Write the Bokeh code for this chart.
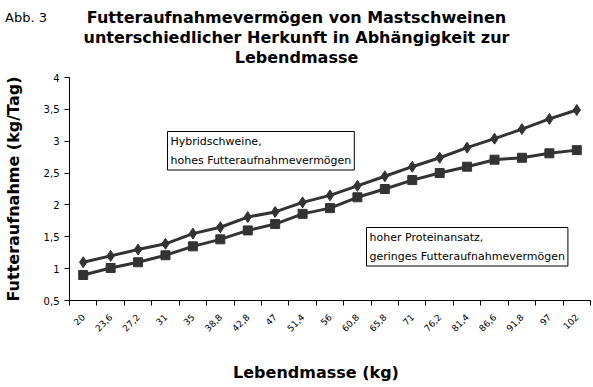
import math
from bokeh.plotting import figure
from bokeh.layouts import column
from bokeh.models import FixedTicker, Label, ColumnDataSource, Div
from bokeh.embed import file_html
from bokeh.resources import INLINE

# --- data ---
weights = ["20", "23,6", "27,2", "31", "35", "38,8", "42,8", "47", "51,4", "56",
           "60,8", "65,8", "71", "76,2", "81,4", "86,6", "91,8", "97", "102"]
hybrid = [1.10, 1.20, 1.30, 1.39, 1.55, 1.65, 1.81, 1.89, 2.04, 2.15,
          2.30, 2.45, 2.60, 2.74, 2.90, 3.04, 3.19, 3.35, 3.49]
protein = [0.90, 1.01, 1.10, 1.21, 1.35, 1.46, 1.60, 1.70, 1.86, 1.95,
           2.12, 2.25, 2.39, 2.50, 2.60, 2.71, 2.74, 2.81, 2.86]
y_ticks = [0.5, 1, 1.5, 2, 2.5, 3, 3.5, 4]
y_tick_labels = ["0,5", "1", "1,5", "2", "2,5", "3", "3,5", "4"]
title_lines = ["Futteraufnahmevermögen von Mastschweinen",
               "unterschiedlicher Herkunft in Abhängigkeit zur",
               "Lebendmasse"]

FONT = "DejaVu Sans"
DARK = "#333333"
W = 593
HEAD_H = 69
MAIN_H = 276
FOOT_H = 387 - HEAD_H - MAIN_H

# header (figure label + title)
head_html = (
    f'<div style="position:relative;width:{W}px;height:{HEAD_H}px;font-family:\'{FONT}\';color:black;">'
    f'<div style="position:absolute;left:5px;top:9px;font-size:13px;line-height:18px;white-space:nowrap;">Abb. 3</div>'
    f'<div style="position:absolute;left:0;top:8px;width:{W}px;text-align:center;font-weight:bold;'
    f'font-size:16px;line-height:20px;white-space:nowrap;">' + "<br>".join(title_lines) + '</div></div>'
)
head = Div(text=head_html, width=W, height=HEAD_H, margin=0)

# main chart
xpos = [i + 0.5 for i in range(len(weights))]
src = ColumnDataSource(dict(x=xpos, hybrid=hybrid, protein=protein))

FL, FR = 69, 590
TOP = 8          # frame top within main figure (canvas y 77)
FB = 231         # frame bottom within main figure (canvas y 300)

p = figure(width=W, height=MAIN_H, output_backend="svg", toolbar_location=None,
           x_range=(0, len(weights)), y_range=(0.5, 4),
           min_border_left=FL, min_border_right=W - FR, min_border_top=TOP,
           min_border_bottom=MAIN_H - FB, margin=0)
p.outline_line_color = None
p.xgrid.visible = False
p.ygrid.visible = False

p.line("x", "hybrid", source=src, line_color=DARK, line_width=3)
p.scatter("x", "hybrid", source=src, marker="diamond", size=11, fill_color=DARK, line_color=DARK)
p.line("x", "protein", source=src, line_color=DARK, line_width=3)
p.scatter("x", "protein", source=src, marker="square", size=9, fill_color=DARK, line_color=DARK)

xa = p.xaxis[0]
xa.ticker = FixedTicker(ticks=xpos, minor_ticks=list(range(len(weights) + 1)))
xa.major_label_overrides = {x: w for x, w in zip(xpos, weights)}
xa.major_tick_out = 0
xa.major_tick_in = 0
xa.minor_tick_out = 5
xa.minor_tick_in = 0
xa.minor_tick_line_color = "black"
xa.axis_line_color = "black"
xa.major_label_orientation = math.pi / 4
xa.major_label_text_font = FONT
xa.major_label_text_font_size = "9px"
xa.major_label_text_color = "black"
xa.major_label_standoff = 10

ya = p.yaxis[0]
ya.ticker = FixedTicker(ticks=y_ticks)
ya.major_label_overrides = {t: l for t, l in zip(y_ticks, y_tick_labels)}
ya.minor_tick_line_color = None
ya.major_tick_out = 5
ya.major_tick_in = 0
ya.axis_line_color = "black"
ya.major_label_text_font = FONT
ya.major_label_text_font_size = "10px"
ya.major_label_text_color = "black"
ya.major_label_standoff = 5
ya.axis_label = "Futteraufnahme (kg/Tag)"
ya.axis_label_text_font = FONT
ya.axis_label_text_font_style = "bold"
ya.axis_label_text_font_size = "16px"
ya.axis_label_text_color = "black"
ya.axis_label_standoff = 18

CANVAS_TOP = HEAD_H  # canvas y of main figure's top edge
frame_bottom_canvas = CANVAS_TOP + FB

box_kw = dict(text_line_height=1.5, border_line_color="black", border_line_width=1,
              background_fill_color="white", padding=3, x_units="screen", y_units="screen",
              text_font=FONT, text_font_size="11px", text_baseline="top", text_color="black")
p.add_layout(Label(x=167 - FL, y=frame_bottom_canvas - 131,
                   text="Hybridschweine,\nhohes Futteraufnahmevermögen", **box_kw))
p.add_layout(Label(x=366 - FL, y=frame_bottom_canvas - 227,
                   text="hoher Proteinansatz,\ngeringes Futteraufnahmevermögen", **box_kw))

# footer (x axis title)
foot_html = (
    f'<div style="position:relative;width:{W}px;height:{FOOT_H}px;font-family:\'{FONT}\';color:black;">'
    f'<div style="position:absolute;left:316px;top:18px;transform:translateX(-50%);font-weight:bold;'
    f'font-size:16px;line-height:20px;white-space:nowrap;">Lebendmasse (kg)</div></div>'
)
foot = Div(text=foot_html, width=W, height=FOOT_H, margin=0)

layout = column(head, p, foot, spacing=0)
open("out.html", "w").write(file_html(layout, INLINE))
